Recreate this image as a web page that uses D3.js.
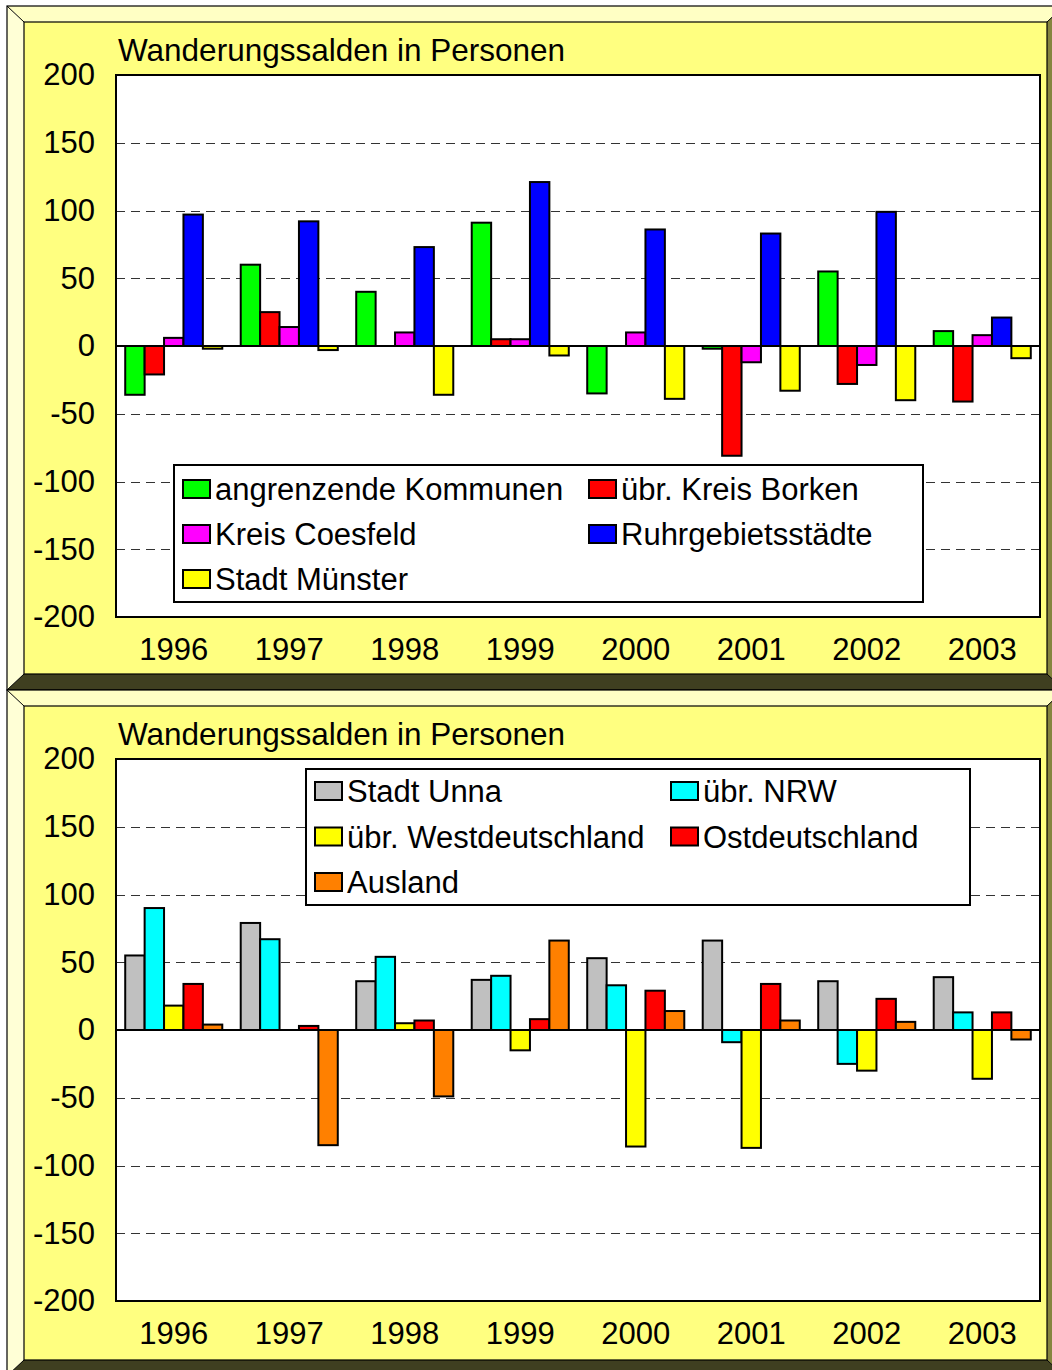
<!DOCTYPE html>
<html>
<head>
<meta charset="utf-8">
<script src="https://cdn.jsdelivr.net/npm/d3@7"></script>
<style>
  body { margin: 0; background: #fff; }
  svg text { font-family: "Liberation Sans", Arial, sans-serif; fill: #000; }
</style>
</head>
<body>
<div id="chart"></div>
<script>
// years on the x axis
const years = ["1996", "1997", "1998", "1999", "2000", "2001", "2002", "2003"];
const yTicks = [200, 150, 100, 50, 0, -50, -100, -150, -200];

// upper chart series
const seriesTop = ["angrenzende Kommunen", "übr. Kreis Borken", "Kreis Coesfeld", "Ruhrgebietsstädte", "Stadt Münster"];
const angrenzende = [-36, 60, 40, 91, -35, -2, 55, 11];
const kreisBorken = [-21, 25, 0, 5, 0, -81, -28, -41];
const kreisCoesfeld = [6, 14, 10, 5, 10, -12, -14, 8];
const ruhrgebiet = [97, 92, 73, 121, 86, 83, 99, 21];
const stadtMuenster = [-2, -3, -36, -7, -39, -33, -40, -9];

// lower chart series
const seriesBottom = ["Stadt Unna", "übr. NRW", "übr. Westdeutschland", "Ostdeutschland", "Ausland"];
const stadtUnna = [55, 79, 36, 37, 53, 66, 36, 39];
const uebrNrw = [90, 67, 54, 40, 33, -9, -25, 13];
const westdeutschland = [18, 0, 5, -15, -86, -87, -30, -36];
const ostdeutschland = [34, 3, 7, 8, 29, 34, 23, 13];
const ausland = [4, -85, -49, 66, 14, 7, 6, -7];

const title = "Wanderungssalden in Personen";

const svg = d3.select("#chart")
  .append("svg")
    .attr("width", 1052)
    .attr("height", 1370);

// beveled yellow frame behind each chart
function frame(top, bottom) {
  const x0 = 7, x1 = 1064, ix0 = 24, ix1 = 1047, iy0 = top + 16, iy1 = bottom - 16;
  const g = svg.append("g");
  g.append("polygon") // top bevel
    .attr("points", [[x0, top], [x1, top], [ix1, iy0], [ix0, iy0]].join(" "))
    .attr("fill", "#ffffc4");
  g.append("polygon") // left bevel
    .attr("points", [[x0, top], [ix0, iy0], [ix0, iy1], [x0, bottom]].join(" "))
    .attr("fill", "#ffffd6");
  g.append("polygon") // bottom bevel
    .attr("points", [[x0, bottom], [ix0, iy1], [ix1, iy1], [x1, bottom]].join(" "))
    .attr("fill", "#3f3f20");
  g.append("polygon") // right bevel
    .attr("points", [[x1, top], [ix1, iy0], [ix1, iy1], [x1, bottom]].join(" "))
    .attr("fill", "#85853f");
  g.append("rect")
    .attr("x", ix0).attr("y", iy0)
    .attr("width", ix1 - ix0).attr("height", iy1 - iy0)
    .attr("fill", "#ffff80")
    .attr("stroke", "#000").attr("stroke-width", 1.2);
  g.append("rect")
    .attr("x", x0).attr("y", top)
    .attr("width", x1 - x0).attr("height", bottom - top)
    .attr("fill", "none")
    .attr("stroke", "#000").attr("stroke-width", 1.2);
  [[x0, top, ix0, iy0], [x1, top, ix1, iy0], [x0, bottom, ix0, iy1], [x1, bottom, ix1, iy1]].forEach(d => {
    g.append("line")
      .attr("x1", d[0]).attr("y1", d[1]).attr("x2", d[2]).attr("y2", d[3])
      .attr("stroke", "#000").attr("stroke-width", 1);
  });
}

function drawChart(opt) {
  const plot = { left: 116, right: 1040, top: opt.plotTop, bottom: opt.plotTop + 542 };

  const x0 = d3.scaleBand()
    .domain(years)
    .range([plot.left, plot.right]);
  const x1 = d3.scaleBand()
    .domain(opt.series)
    .range([0, x0.bandwidth()])
    .paddingOuter(0.475);
  const y = d3.scaleLinear()
    .domain([-200, 200])
    .range([plot.bottom, plot.top]);
  const color = d3.scaleOrdinal()
    .domain(opt.series)
    .range(opt.colors);

  const g = svg.append("g");

  g.append("text")
    .attr("x", 118)
    .attr("y", plot.top - 14)
    .style("font-size", "31.5px")
    .text(title);

  g.append("rect")
    .attr("x", plot.left).attr("y", plot.top)
    .attr("width", plot.right - plot.left).attr("height", plot.bottom - plot.top)
    .attr("fill", "#fff");

  // dashed grid
  g.selectAll(".grid")
    .data(yTicks.filter(t => t !== 0 && Math.abs(t) !== 200))
    .join("line")
      .attr("x1", plot.left).attr("x2", plot.right)
      .attr("y1", d => Math.round(y(d)) + 0.5).attr("y2", d => Math.round(y(d)) + 0.5)
      .attr("stroke", "#333")
      .attr("stroke-width", 1.2)
      .attr("stroke-dasharray", "9,6");

  // y labels
  const yAxis = d3.axisLeft(y).tickValues(yTicks).tickSize(0).tickPadding(0)
    .tickFormat(d => String(d));
  g.append("g")
    .attr("transform", `translate(${plot.left - 21},0)`)
    .call(yAxis)
    .call(a => a.select(".domain").remove())
    .call(a => a.selectAll("text").style("font-size", "31px").attr("font-family", null));

  // x labels
  const xAxis = d3.axisBottom(x0).tickSize(0).tickPadding(0);
  g.append("g")
    .attr("transform", `translate(0,${plot.bottom + 21})`)
    .call(xAxis)
    .call(a => a.select(".domain").remove())
    .call(a => a.selectAll("text").style("font-size", "31px").attr("font-family", null));

  // bars
  const rows = [];
  opt.values.forEach((vals, si) => {
    vals.forEach((v, yi) => rows.push({ year: years[yi], key: opt.series[si], value: v }));
  });
  g.append("g")
    .selectAll("rect")
    .data(rows.filter(d => d.value !== 0))
    .join("rect")
      .attr("x", d => x0(d.year) + x1(d.key))
      .attr("y", d => y(Math.max(0, d.value)))
      .attr("width", x1.bandwidth())
      .attr("height", d => Math.abs(y(d.value) - y(0)))
      .attr("fill", d => color(d.key))
      .attr("stroke", "#000")
      .attr("stroke-width", 2);

  // zero line
  g.append("line")
    .attr("x1", plot.left).attr("x2", plot.right)
    .attr("y1", y(0)).attr("y2", y(0))
    .attr("stroke", "#000").attr("stroke-width", 2);

  // plot border
  g.append("rect")
    .attr("x", plot.left).attr("y", plot.top)
    .attr("width", plot.right - plot.left).attr("height", plot.bottom - plot.top)
    .attr("fill", "none")
    .attr("stroke", "#000").attr("stroke-width", 2);

  // legend
  const L = opt.legend;
  const lg = g.append("g").attr("transform", `translate(${L.x},${L.y})`);
  lg.append("rect")
    .attr("width", L.w).attr("height", L.h)
    .attr("fill", "#fff")
    .attr("stroke", "#000").attr("stroke-width", 2);
  const item = lg.selectAll(".item")
    .data(opt.series)
    .join("g")
      .attr("transform", (d, i) => `translate(${i % 2 ? L.col2 : 9},${L.row0 + Math.floor(i / 2) * L.rowStep})`);
  item.append("rect")
    .attr("x", 0).attr("y", -9)
    .attr("width", 27).attr("height", 18)
    .attr("fill", d => color(d))
    .attr("stroke", "#000").attr("stroke-width", 2);
  item.append("text")
    .attr("x", 32)
    .attr("dy", "0.36em")
    .style("font-size", "31px")
    .text(d => d);
}

frame(6, 690);
frame(690, 1376);

drawChart({
  plotTop: 75,
  series: seriesTop,
  values: [angrenzende, kreisBorken, kreisCoesfeld, ruhrgebiet, stadtMuenster],
  colors: ["#00ff00", "#ff0000", "#ff00ff", "#0000ff", "#ffff00"],
  legend: { x: 174, y: 465, w: 749, h: 137, col2: 415, row0: 24, rowStep: 45 }
});

drawChart({
  plotTop: 759,
  series: seriesBottom,
  values: [stadtUnna, uebrNrw, westdeutschland, ostdeutschland, ausland],
  colors: ["#c0c0c0", "#00ffff", "#ffff00", "#ff0000", "#ff8000"],
  legend: { x: 306, y: 769, w: 664, h: 136, col2: 365, row0: 22, rowStep: 45.5 }
});
</script>
</body>
</html>
